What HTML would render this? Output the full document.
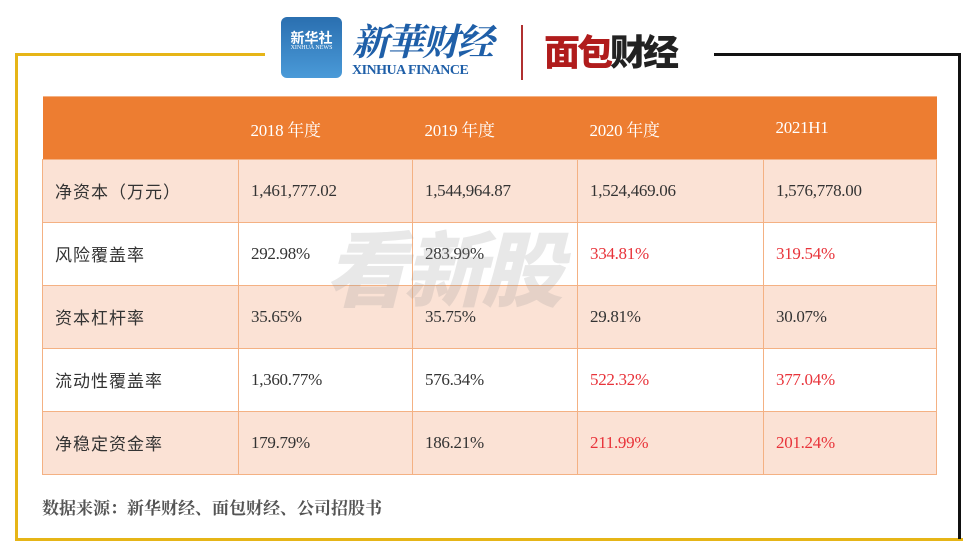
<!DOCTYPE html>
<html><head><meta charset="utf-8"><style>
body{margin:0;width:971px;height:557px;background:#fff;position:relative;overflow:hidden;font-family:"Liberation Serif","Noto Serif CJK SC",serif}
.a{position:absolute}
table{position:absolute;left:42px;top:96px;border-collapse:collapse;width:895px}
td{border:1px solid #F4B183;height:62px;padding:0 0 0 12px;font-size:17px;color:#333;letter-spacing:-0.3px}
tr.h td{background:#ED7D31;color:#fff;border:none;border-top:1px solid #F4B183;font-size:17px}
tr.p td{background:#FBE2D5}
td.l{font-family:"Noto Sans CJK SC",sans-serif;font-size:17px;letter-spacing:1px;color:#333;line-height:20px}
.r{color:#E8333A}
</style></head><body>
<div class="a" style="left:15px;top:53px;width:250px;height:3px;background:#E6B517"></div>
<div class="a" style="left:15px;top:53px;width:3px;height:488px;background:#E6B517"></div>
<div class="a" style="left:15px;top:538px;width:948px;height:3px;background:#E6B517"></div>
<div class="a" style="left:714px;top:53px;width:247px;height:3px;background:#111"></div>
<div class="a" style="left:958px;top:53px;width:3px;height:486px;background:#111"></div>
<div class="a" style="left:281px;top:17px;width:61px;height:61px;border-radius:6px;background:linear-gradient(#2a6fb0,#4a9ad8)"></div>
<div class="a" style="left:284px;top:28px;width:55px;text-align:center;color:#fff;font-family:'Noto Sans CJK SC';font-size:14px;font-weight:bold">新华社</div>
<div class="a" style="left:284px;top:45px;width:55px;text-align:center;color:#fff;font-size:6px">XINHUA NEWS</div>
<div class="a" style="left:352px;top:12px;color:#1f5fa8;font-family:'Noto Serif CJK SC';font-size:37px;font-weight:bold;font-style:italic;letter-spacing:-2px">新華财经</div>
<div class="a" style="left:352px;top:63px;color:#1f5fa8;font-size:14px;font-weight:bold;letter-spacing:-0.5px">XINHUA FINANCE</div>
<div class="a" style="left:521px;top:25px;width:2px;height:55px;background:#b03030"></div>
<div class="a" style="left:544px;top:24px;color:#b01c1c;font-family:'Noto Sans CJK SC';font-size:36px;font-weight:900;letter-spacing:-3px">面包<span style="color:#222">财经</span></div>
<table>
<tr class="h"><td style="width:184px"></td><td style="width:162px">2018 年度</td><td style="width:153px">2019 年度</td><td style="width:174px">2020 年度</td><td>2021H1</td></tr>
<tr class="p"><td class="l">净资本（万元）</td><td>1,461,777.02</td><td>1,544,964.87</td><td>1,524,469.06</td><td>1,576,778.00</td></tr>
<tr><td class="l">风险覆盖率</td><td>292.98%</td><td>283.99%</td><td class="r">334.81%</td><td class="r">319.54%</td></tr>
<tr class="p"><td class="l">资本杠杆率</td><td>35.65%</td><td>35.75%</td><td>29.81%</td><td>30.07%</td></tr>
<tr><td class="l">流动性覆盖率</td><td>1,360.77%</td><td>576.34%</td><td class="r">522.32%</td><td class="r">377.04%</td></tr>
<tr class="p"><td class="l">净稳定资金率</td><td>179.79%</td><td>186.21%</td><td class="r">211.99%</td><td class="r">201.24%</td></tr>
</table>
<div class="a" style="left:325px;top:205px;color:rgba(150,150,150,0.22);font-family:'Noto Sans CJK SC';font-size:82px;font-weight:900;font-style:italic;letter-spacing:-4px">看新股</div>
<div class="a" style="left:42px;top:494px;color:#555;font-family:'Noto Serif CJK SC',serif;font-size:17px;font-weight:bold">数据来源：新华财经、面包财经、公司招股书</div>
</body></html>
